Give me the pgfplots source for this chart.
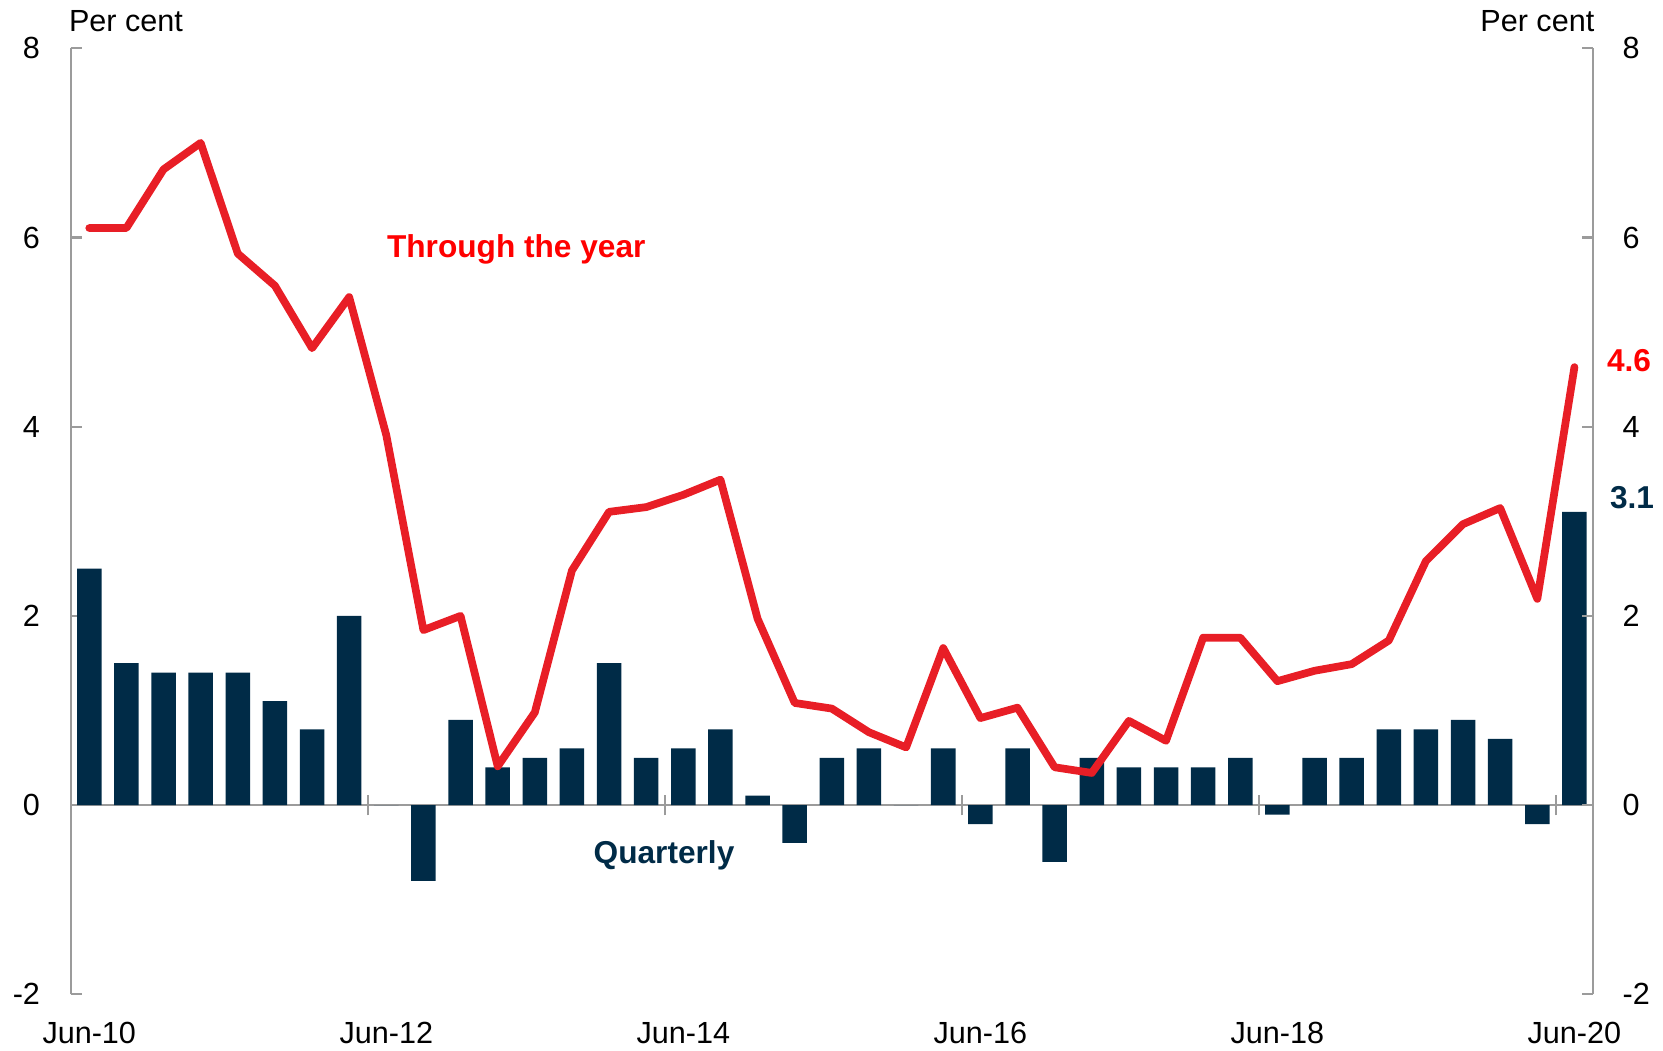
\documentclass[border=0pt]{standalone}
\usepackage{fontspec}
\setmainfont{Liberation Sans}
\usepackage{pgfplots}
\pgfplotsset{compat=1.18}
\definecolor{linered}{RGB}{232,30,38}
\definecolor{textred}{RGB}{255,0,0}
\definecolor{navy}{RGB}{0,43,71}
\definecolor{axgray}{RGB}{155,155,155}

\newcommand{\tickfont}{\fontsize{8.7}{10}\selectfont}

\begin{document}
\begin{tikzpicture}
\useasboundingbox (-0.707,-0.557) rectangle (15.923,9.943);
\pgfplotsset{
  common/.style={
    at={(0,0)}, anchor=south west, scale only axis,
    width=15.223cm, height=9.46cm,
    xmin=-0.5, xmax=40.5, ymin=-2, ymax=8,
    ytick={-2,0,2,4,6,8},
    tick align=inside,
    major tick length=0.11cm,
    ytick style={axgray, line width=0.6pt},
    y axis line style={axgray, line width=0.6pt, -},
    /pgf/number format/assume math mode=true,
    clip=false,
  }
}
\begin{axis}[common,
  axis y line*=left, axis x line*=bottom,
  x axis line style={draw=none},
  xtick={0,8,16,24,32,40},
  xticklabels={Jun-10,Jun-12,Jun-14,Jun-16,Jun-18,Jun-20},
  xtick style={draw=none},
  yticklabel style={font=\tickfont, inner sep=0pt, anchor=east, xshift=-0.30cm},
  xticklabel style={font=\tickfont, inner sep=0pt, anchor=north, yshift=-0.27cm},
]
% zero line and ticks
\draw[axgray, line width=0.7pt] (axis cs:-0.5,0) -- (axis cs:40.5,0);
\pgfplotsinvokeforeach{7.5,15.5,23.5,31.5,39.5}{
  \draw[axgray, line width=0.6pt] (axis cs:#1,0) ++(0pt,-2.9pt) -- ++(0pt,5.8pt);
}
% Quarterly
\addplot[ybar, bar width=0.66, fill=navy, draw=none] coordinates {
(0,2.5) (1,1.5) (2,1.4) (3,1.4) (4,1.4) (5,1.1) (6,0.8) (7,2.0) (8,0.0)
(9,-0.8) (10,0.9) (11,0.4) (12,0.5) (13,0.6) (14,1.5) (15,0.5) (16,0.6)
(17,0.8) (18,0.1) (19,-0.4) (20,0.5) (21,0.6) (22,0.0) (23,0.6) (24,-0.2)
(25,0.6) (26,-0.6) (27,0.5) (28,0.4) (29,0.4) (30,0.4) (31,0.5) (32,-0.1)
(33,0.5) (34,0.5) (35,0.8) (36,0.8) (37,0.9) (38,0.7) (39,-0.2) (40,3.1)
};
% Through the year
\addplot[linered, line width=2.2pt, line cap=round, line join=round, mark=none] coordinates {
(0,6.10) (1,6.10) (2,6.72) (3,7.00) (4,5.83) (5,5.49) (6,4.83) (7,5.37)
(8,3.91) (9,1.85) (10,2.00) (11,0.41) (12,0.98) (13,2.48) (14,3.10) (15,3.15)
(16,3.28) (17,3.44) (18,1.97) (19,1.08) (20,1.02) (21,0.77) (22,0.61) (23,1.66)
(24,0.92) (25,1.03) (26,0.40) (27,0.34) (28,0.89) (29,0.68) (30,1.77) (31,1.77)
(32,1.31) (33,1.42) (34,1.49) (35,1.74) (36,2.58) (37,2.97) (38,3.14) (39,2.18)
(40,4.63)
};
\node[anchor=base, inner sep=0pt, text=textred, font=\fontsize{9}{10}\selectfont\bfseries] at (axis cs:11.5,5.785) {Through the year};
\node[anchor=base, inner sep=0pt, text=navy, font=\fontsize{9}{10}\selectfont\bfseries] at (axis cs:15.48,-0.613) {Quarterly};
\node[anchor=base, inner sep=0pt, text=textred, font=\fontsize{9}{10}\selectfont\bfseries] at (axis cs:41.47,4.58) {4.6};
\node[anchor=base, inner sep=0pt, text=navy, font=\fontsize{9}{10}\selectfont\bfseries] at (axis cs:41.55,3.14) {3.1};
\node[anchor=base west, inner sep=0pt, font=\tickfont] at ([xshift=-0.024cm, yshift=0.166cm]rel axis cs:0,1) {Per cent};
\node[anchor=base east, inner sep=0pt, font=\tickfont] at ([xshift=0.02cm, yshift=0.166cm]rel axis cs:1,1) {Per cent};
\end{axis}
\begin{axis}[common,
  axis y line*=right, axis x line=none,
  yticklabel style={font=\tickfont, inner sep=0pt, anchor=west, xshift=0.29cm},
]
\end{axis}
\end{tikzpicture}
\end{document}
